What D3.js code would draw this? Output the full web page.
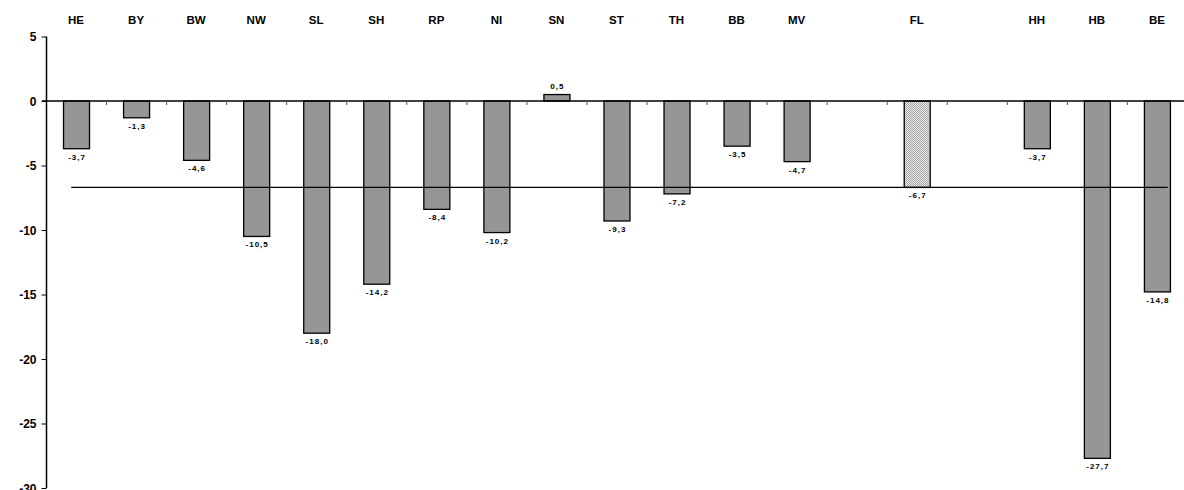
<!DOCTYPE html>
<html><head><meta charset="utf-8">
<script src="https://cdn.jsdelivr.net/npm/d3@7"></script>
<style>body{margin:0;background:#fff}svg{display:block}text{font-family:"Liberation Sans",Arial,sans-serif;font-weight:bold}</style>
</head><body><svg id="c" width="1184" height="490"></svg>
<script>
const categories = ["HE","BY","BW","NW","SL","SH","RP","NI","SN","ST","TH","BB","MV","","FL","","HH","HB","BE"];
const values = [-3.7,-1.3,-4.6,-10.5,-18.0,-14.2,-8.4,-10.2,0.5,-9.3,-7.2,-3.5,-4.7,null,-6.7,null,-3.7,-27.7,-14.8];
const valueLabels = ["-3,7","-1,3","-4,6","-10,5","-18,0","-14,2","-8,4","-10,2","0,5","-9,3","-7,2","-3,5","-4,7","","-6,7","","-3,7","-27,7","-14,8"];
const highlighted = ["FL"];
const average = -6.7;
const yTicks = [5,0,-5,-10,-15,-20,-25,-30];

const svg = d3.select("#c");
const defs = svg.append("defs");
const pat = defs.append("pattern").attr("id","hatch").attr("patternUnits","userSpaceOnUse").attr("width",2).attr("height",2);
pat.append("rect").attr("width",2).attr("height",2).attr("fill","#e6e6e6");
pat.append("rect").attr("width",1).attr("height",1).attr("fill","#a8a8a8");
pat.append("rect").attr("x",1).attr("y",1).attr("width",1).attr("height",1).attr("fill","#a8a8a8");

const idx = d3.range(categories.length);
const x = d3.scaleBand().domain(idx).range([46, 46 + 19*60.05]).paddingInner(0).paddingOuter(0);
const y = d3.scaleLinear().domain([-30,5]).range([488,36.5]);
const step = x.step();
const bw = 26;

// y axis
const yAxis = d3.axisLeft(y).tickValues(yTicks).tickSize(5).tickFormat(d=>d);
const gy = svg.append("g").attr("transform","translate(46.5,0)").call(yAxis);
gy.select(".domain").attr("stroke","#000").attr("stroke-width",1.5).attr("d","M-0,36.5V488");
gy.selectAll(".tick line").attr("stroke","#000").attr("stroke-width",1);
gy.selectAll(".tick text").attr("font-size",12).attr("fill","#000").attr("x",-10).attr("dy","0.35em")
  .style("font-family","'Liberation Sans',Arial,sans-serif").style("font-weight","bold");

// bars
const data = idx.filter(i=>values[i]!==null);
svg.append("g").selectAll("rect").data(data).enter().append("rect")
  .attr("x", i=>x(i)+step/2-bw/2+0.5)
  .attr("width", bw)
  .attr("y", i=>y(Math.max(0,values[i])))
  .attr("height", i=>Math.abs(y(values[i])-y(0)))
  .attr("fill", i=>highlighted.includes(categories[i])?"url(#hatch)":"#969696")
  .attr("stroke","#000").attr("stroke-width",1.3);

// zero line
svg.append("line").attr("x1",42).attr("x2",1184).attr("y1",y(0)).attr("y2",y(0)).attr("stroke","#000").attr("stroke-width",1.3);
// category boundary ticks
svg.append("g").selectAll("line").data(idx.slice(1)).enter().append("line")
  .attr("x1",i=>x(i)+0.5).attr("x2",i=>x(i)+0.5).attr("y1",y(0)).attr("y2",y(0)+4)
  .attr("stroke","#555").attr("stroke-width",1);

// average line
svg.append("line").attr("x1",x(0)+step*0.42).attr("x2",x(18)+step*0.68)
  .attr("y1",y(average)).attr("y2",y(average)).attr("stroke","#000").attr("stroke-width",1.3);

// category labels
svg.append("g").selectAll("text").data(idx).enter().append("text")
  .attr("x",i=>x(i)+step/2).attr("y",24).attr("text-anchor","middle").attr("font-size",11.5).attr("fill","#000")
  .text(i=>categories[i]);

// value labels
svg.append("g").selectAll("text").data(data).enter().append("text")
  .attr("x",i=>x(i)+step/2+1).attr("y",i=>values[i]>=0? y(values[i])-6 : y(values[i])+11)
  .attr("text-anchor","middle").attr("font-size",8).attr("letter-spacing","1px").attr("fill","#000")
  .text(i=>valueLabels[i]);
</script></body></html>
